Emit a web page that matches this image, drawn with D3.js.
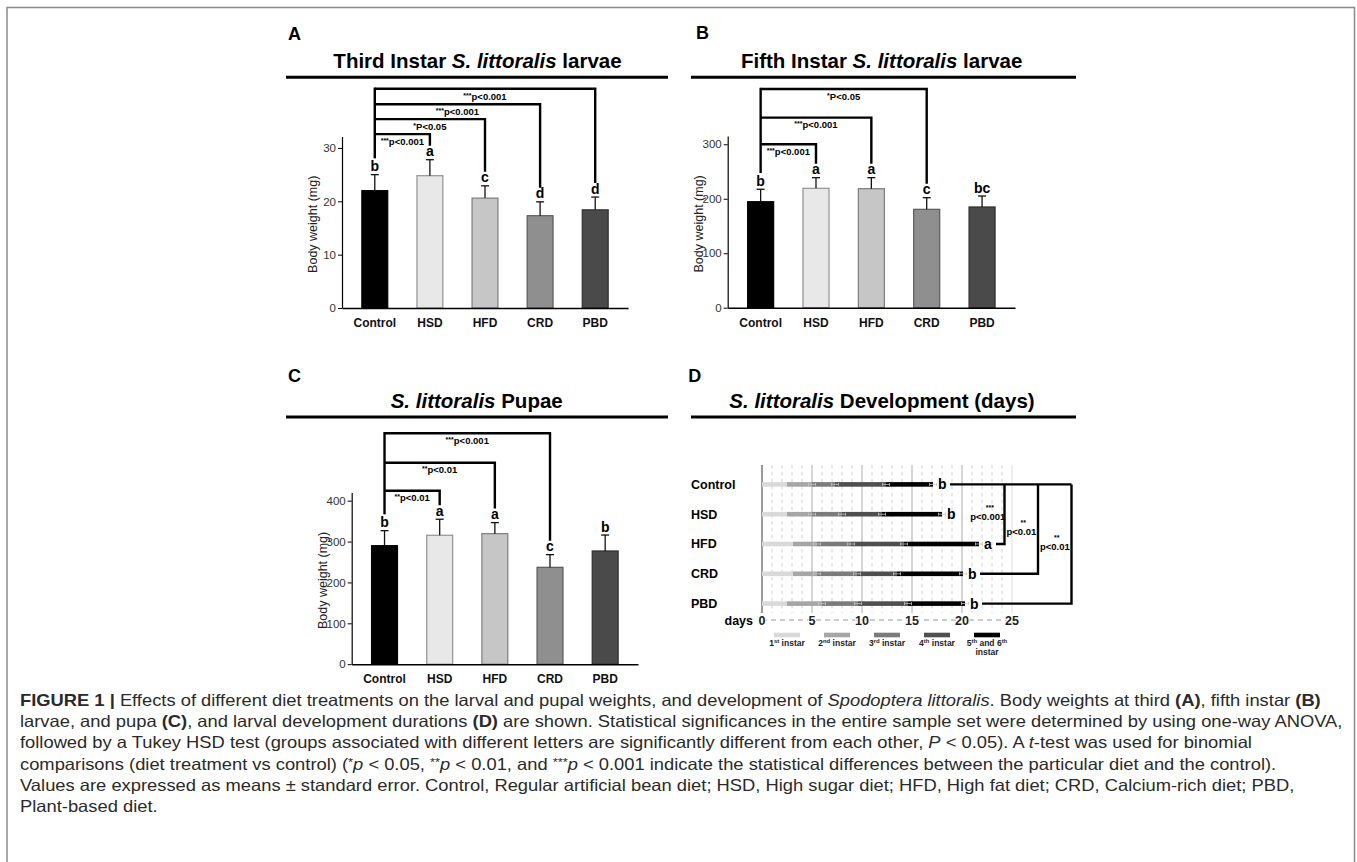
<!DOCTYPE html>
<html>
<head>
<meta charset="utf-8">
<script src="https://cdn.jsdelivr.net/npm/d3@7"></script>
<style>
body { margin: 0; background: #fff; }
svg  { display: block; font-family: "Liberation Sans", Arial, Helvetica, sans-serif; }
.plabel { font-size: 18px; font-weight: bold; }
.ptitle { font-size: 20.5px; font-weight: bold; }
.ylab   { font-size: 12.5px; fill: #222; }
.ax text { font-family: "Liberation Sans", Arial, sans-serif; }
.caption { font-family: "Liberation Sans", Arial, sans-serif; fill: #2a2a2a; }
</style>
</head>
<body>
<script>
// ************************************************************************************
// DATA
// ************************************************************************************
var diets = ["Control", "HSD", "HFD", "CRD", "PBD"]

// A - third instar larvae (mg)
var thirdMean    = [22.0, 24.8, 20.6, 17.3, 18.4]
var thirdErr     = [3.0, 3.0, 2.3, 2.6, 2.4]
var thirdLetters = ["b", "a", "c", "d", "d"]
var thirdTicks   = [0, 10, 20, 30]
var thirdSig     = [
	{vs: "HSD", stars: "***", p: "p<0.001", at: 32.6},
	{vs: "HFD", stars: "*",   p: "P<0.05",  at: 35.4},
	{vs: "CRD", stars: "***", p: "p<0.001", at: 38.2},
	{vs: "PBD", stars: "***", p: "p<0.001", at: 41.1}
]

// B - fifth instar larvae (mg)
var fifthMean    = [194.6, 219.2, 218.5, 180.6, 184.9]
var fifthErr     = [22.8, 19.5, 20.2, 21.4, 20.1]
var fifthLetters = ["b", "a", "a", "c", "bc"]
var fifthTicks   = [0, 100, 200, 300]
var fifthSig     = [
	{vs: "HSD", stars: "***", p: "p<0.001", at: 300},
	{vs: "HFD", stars: "***", p: "p<0.001", at: 349},
	{vs: "CRD", stars: "*",   p: "P<0.05",  at: 401.5}
]

// C - pupae (mg)
var pupaMean    = [290, 315.4, 319.4, 237, 277]
var pupaErr     = [36.7, 39.2, 27, 31, 39]
var pupaLetters = ["b", "a", "a", "c", "b"]
var pupaTicks   = [0, 100, 200, 300, 400]
var pupaSig     = [
	{vs: "HSD", stars: "**",  p: "p<0.01",  at: 424.5},
	{vs: "HFD", stars: "**",  p: "p<0.01",  at: 493},
	{vs: "CRD", stars: "***", p: "p<0.001", at: 565}
]

// D - development, cumulative day at the end of each instar
var devEnds = [
	[2.5, 5.0, 7.3, 12.4, 17.1],   // Control
	[2.5, 5.0, 8.0, 12.0, 18.0],   // HSD
	[3.1, 5.5, 8.9, 14.2, 21.7],   // HFD
	[3.1, 5.5, 9.5, 13.5, 20.1],   // CRD
	[2.5, 6.0, 9.6, 14.6, 20.3]    // PBD
]
var devLetters = ["b", "b", "a", "b", "b"]
var dayTicks   = [0, 5, 10, 15, 20, 25]
var stageNames = [["1", "st", " instar"], ["2", "nd", " instar"], ["3", "rd", " instar"], ["4", "th", " instar"], ["5", "th", " and 6", "th", "instar"]]
var devSig     = [
	{vs: "HFD", stars: "***", p: "p<0.001", at: 24.25},
	{vs: "CRD", stars: "**",  p: "p<0.01",  at: 27.6},
	{vs: "PBD", stars: "**",  p: "p<0.01",  at: 30.95}
]

// styles
var barFills   = ["#000000", "#e8e8e8", "#c6c6c6", "#8f8f8f", "#4a4a4a"]
var stageFills = ["#d9d9d9", "#a6a6a6", "#7b7b7b", "#4f4f4f", "#000000"]

// ************************************************************************************
// GLOBAL VARIABLES
// ************************************************************************************
var W = 1357, H = 862
var svg = d3.select("body").append("svg").attr("width", W).attr("height", H)

// ************************************************************************************
// HELPERS
// ************************************************************************************
function rich(textSel, segs) {
	segs.forEach(function (s) {
		var t = textSel.append("tspan").text(s[0])
		if (s[1] && s[1].indexOf("i") >= 0) t.attr("font-style", "italic")
		if (s[1] && s[1].indexOf("b") >= 0) t.attr("font-weight", "bold")
		if (s[1] && s[1].indexOf("s") >= 0) t.attr("font-size", "0.7em").attr("dy", "-0.35em")
		if (s[1] && s[1].indexOf("r") >= 0) t.attr("dy", "0.245em")
	})
}

function sigLabel(g, cx, cy, sig, stacked) {
	var t = g.append("text").attr("text-anchor", "middle").attr("font-weight", "bold")
	if (!stacked) {
		t.attr("x", cx).attr("y", cy).attr("font-size", 9.5)
		t.append("tspan").attr("font-size", 7).attr("dy", -2).text(sig.stars)
		t.append("tspan").attr("dy", 2).text(sig.p)
	} else {
		g.append("text").attr("x", cx + 2).attr("y", cy - 7).attr("text-anchor", "middle")
			.attr("font-size", 7).attr("font-weight", "bold").text(sig.stars)
		t.attr("x", cx).attr("y", cy + 3).attr("font-size", 9.5).text(sig.p)
	}
}

function panelHead(o) {
	svg.append("text").attr("class", "plabel").attr("x", o.letterX).attr("y", o.letterY).text(o.letter)
	var t = svg.append("text").attr("class", "ptitle").attr("x", o.titleX).attr("y", o.titleY).attr("text-anchor", "middle")
	rich(t, o.title)
	svg.append("line").attr("x1", o.lineX0).attr("x2", o.lineX1).attr("y1", o.titleY + 9).attr("y2", o.titleY + 9)
		.attr("stroke", "#000").attr("stroke-width", 3)
}

// ************************************************************************************
// BAR PANELS (A, B, C)
// ************************************************************************************
function barPanel(o) {
	panelHead(o)
	var g = svg.append("g")

	var x = d3.scaleBand().domain(diets).range([o.x0, o.x1]).paddingInner(0.53).paddingOuter(0.36)
	var y = d3.scaleLinear().domain([0, o.yMax]).range([o.y0, o.yTop])

	var ya = g.append("g").attr("class", "ax").attr("transform", "translate(" + o.x0 + ",0)")
		.call(d3.axisLeft(y).tickValues(o.ticks).tickSize(4).tickSizeOuter(0).tickPadding(2))
	ya.selectAll("text").attr("font-size", 11.5).attr("fill", "#333")
	ya.select(".domain").attr("stroke-width", 1.2)

	g.append("text").attr("class", "ylab").attr("text-anchor", "middle")
		.attr("transform", "translate(" + (o.x0 - 29.5) + "," + ((o.y0 + o.yTop) / 2 + 2) + ") rotate(-90)")
		.attr("dy", "0.35em").text("Body weight (mg)")

	g.selectAll(".bar").data(diets).enter().append("rect")
		.attr("x", function (d) { return x(d) })
		.attr("y", function (d, i) { return y(o.mean[i]) })
		.attr("width", x.bandwidth())
		.attr("height", function (d, i) { return y(0) - y(o.mean[i]) })
		.attr("fill", function (d, i) { return barFills[i] })
		.attr("stroke", function (d, i) { return d3.color(barFills[i]).darker(1.3) })
		.attr("stroke-width", 1.2)

	var cx = function (d) { return x(d) + x.bandwidth() / 2 }
	diets.forEach(function (d, i) {
		var top = y(o.mean[i] + o.err[i])
		g.append("line").attr("x1", cx(d)).attr("x2", cx(d)).attr("y1", y(o.mean[i])).attr("y2", top)
			.attr("stroke", "#111").attr("stroke-width", 1.3)
		g.append("line").attr("x1", cx(d) - 4).attr("x2", cx(d) + 4).attr("y1", top).attr("y2", top)
			.attr("stroke", "#111").attr("stroke-width", 1.3)
		g.append("text").attr("x", cx(d)).attr("y", top - 3.5).attr("text-anchor", "middle")
			.attr("font-size", 14).attr("font-weight", "bold").text(o.letters[i])
	})

	var xa = g.append("g").attr("class", "ax").attr("transform", "translate(0," + o.y0 + ")")
		.call(d3.axisBottom(x).tickSize(0).tickSizeOuter(0).tickPadding(10.5))
	xa.selectAll("text").attr("font-size", 12).attr("font-weight", "bold").attr("fill", "#111")
	xa.select(".domain").attr("stroke-width", 1.4)

	// significance brackets, all against Control
	var c0 = cx("Control")
	var ctrlTop = y(o.mean[0] + o.err[0]) - 17.5
	var hi = d3.max(o.sig, function (s) { return s.at })
	g.append("path").attr("d", "M" + c0 + "," + ctrlTop + "V" + y(hi))
		.attr("fill", "none").attr("stroke", "#000").attr("stroke-width", 2.4).attr("stroke-linecap", "square")
	o.sig.forEach(function (s) {
		var k = diets.indexOf(s.vs)
		var xe = cx(s.vs)
		g.append("path").attr("d", "M" + c0 + "," + y(s.at) + "H" + xe + "V" + (y(o.mean[k] + o.err[k]) - 14))
			.attr("fill", "none").attr("stroke", "#000").attr("stroke-width", 2.4).attr("stroke-linejoin", "miter")
		sigLabel(g, (c0 + xe) / 2, y(s.at) + 10.8, s, false)
	})
}

barPanel({
	letter: "A", letterX: 288, letterY: 39.5,
	title: [["Third Instar ", ""], ["S. littoralis", "i"], [" larvae", ""]], titleX: 477.5, titleY: 68.3,
	lineX0: 286, lineX1: 668,
	x0: 342, x1: 628, y0: 308, yTop: 136.5, yMax: 32.15,
	mean: thirdMean, err: thirdErr, letters: thirdLetters, ticks: thirdTicks, sig: thirdSig
})

barPanel({
	letter: "B", letterX: 696, letterY: 39,
	title: [["Fifth Instar ", ""], ["S. littoralis", "i"], [" larvae", ""]], titleX: 881.7, titleY: 68.3,
	lineX0: 691, lineX1: 1076,
	x0: 727.7, x1: 1015, y0: 307.7, yTop: 136, yMax: 315.2,
	mean: fifthMean, err: fifthErr, letters: fifthLetters, ticks: fifthTicks, sig: fifthSig
})

barPanel({
	letter: "C", letterX: 288, letterY: 382,
	title: [["S. littoralis", "i"], [" Pupae", ""]], titleX: 476.7, titleY: 408,
	lineX0: 286, lineX1: 668,
	x0: 351.7, x1: 638, y0: 664.2, yTop: 492.6, yMax: 419.8,
	mean: pupaMean, err: pupaErr, letters: pupaLetters, ticks: pupaTicks, sig: pupaSig
})

// ************************************************************************************
// DEVELOPMENT PANEL (D)
// ************************************************************************************
panelHead({
	letter: "D", letterX: 688.3, letterY: 382,
	title: [["S. littoralis", "i"], [" Development (days)", ""]], titleX: 882, titleY: 408,
	lineX0: 691, lineX1: 1076
})

var gd   = svg.append("g")
var dx   = d3.scaleLinear().domain([0, 25]).range([762, 1012])
var rows = d3.scalePoint().domain(diets).range([484.4, 603.6])
var gridTop = rows("Control") - 19.5, gridBot = rows("PBD") + 9.5, axisY = 620

// grid
d3.range(0, 26).forEach(function (d) {
	var l = gd.append("line").attr("x1", dx(d)).attr("x2", dx(d)).attr("y1", gridTop).attr("y2", gridBot)
	if (d === 0)          l.attr("stroke", "#9a9a9a").attr("stroke-width", 2)
	else if (d === 25)    l.attr("stroke", "#dedede").attr("stroke-width", 1)
	else if (d % 5 === 0) l.attr("stroke", "#ababab").attr("stroke-width", 1)
	else                  l.attr("stroke", "#cfcfcf").attr("stroke-width", 0.9).attr("stroke-dasharray", "3.5,3.5")
})

// stacked instar bars
diets.forEach(function (d, i) {
	var ends = devEnds[i]
	ends.forEach(function (e, j) {
		var s = j === 0 ? 0 : ends[j - 1]
		gd.append("rect").attr("x", dx(s)).attr("y", rows(d) - 2.3).attr("width", dx(e) - dx(s)).attr("height", 4.6)
			.attr("fill", stageFills[j])
	})
	ends.forEach(function (e, j) {
		if (j === 0) return
		gd.append("path").attr("d", "M" + dx(e - 0.35) + "," + (rows(d) - 1.5) + "v3M" + dx(e - 0.35) + "," + rows(d) +
			"H" + dx(e + 0.35) + "M" + dx(e + 0.35) + "," + (rows(d) - 1.5) + "v3")
			.attr("fill", "none").attr("stroke", "#c4c4c4").attr("stroke-width", 0.8)
	})
	gd.append("text").attr("x", 691).attr("y", rows(d)).attr("dy", "0.35em")
		.attr("font-size", 12.5).attr("font-weight", "bold").text(d)
	gd.append("text").attr("x", dx(ends[4]) + 5).attr("y", rows(d)).attr("dy", "0.35em")
		.attr("font-size", 14).attr("font-weight", "bold").text(devLetters[i])
})

// significance brackets vs Control
var lastAt = devSig[devSig.length - 1].at
gd.append("path").attr("d", "M" + (dx(devEnds[0][4]) + 17) + "," + rows("Control") + "H" + dx(lastAt))
	.attr("stroke", "#000").attr("stroke-width", 2.4).attr("fill", "none")
devSig.forEach(function (s) {
	var k = diets.indexOf(s.vs)
	gd.append("path").attr("d", "M" + dx(s.at) + "," + rows("Control") + "V" + rows(s.vs) + "H" + (dx(devEnds[k][4]) + 17))
		.attr("stroke", "#000").attr("stroke-width", 2.4).attr("fill", "none")
	sigLabel(gd, dx(s.at) - 16.7, (rows("Control") + rows(s.vs)) / 2 + 2.5, s, true)
})

// day axis
gd.append("line").attr("x1", dx(0)).attr("x2", dx(25)).attr("y1", axisY).attr("y2", axisY)
	.attr("stroke", "#9a9a9a").attr("stroke-width", 1.2).attr("stroke-dasharray", "5,4")
gd.selectAll(".dtick").data(dayTicks).enter().append("text")
	.attr("x", function (d) { return dx(d) }).attr("y", axisY).attr("dy", "0.36em")
	.attr("text-anchor", "middle").attr("font-size", 12.5).attr("font-weight", "bold").attr("fill", "#222")
	.attr("stroke", "#fff").attr("stroke-width", 2).attr("paint-order", "stroke")
	.text(function (d) { return d })
gd.append("text").attr("x", 753).attr("y", axisY).attr("dy", "0.36em").attr("text-anchor", "end")
	.attr("font-size", 12.5).attr("font-weight", "bold").text("days")

// legend
stageNames.forEach(function (n, j) {
	var c = dx(2.5 + 5 * j)
	gd.append("rect").attr("x", c - 13).attr("y", axisY + 12.7).attr("width", 26).attr("height", 4.6).attr("fill", stageFills[j])
	var t = gd.append("text").attr("x", c).attr("y", axisY + 25.5).attr("text-anchor", "middle")
		.attr("font-size", 8.5).attr("font-weight", "bold").attr("fill", "#222")
	if (n.length === 3) rich(t, [[n[0], ""], [n[1], "s"], [n[2], "r"]])
	else {
		rich(t, [[n[0], ""], [n[1], "s"], [n[2], "r"], [n[3], "s"]])
		gd.append("text").attr("x", c).attr("y", axisY + 34.5).attr("text-anchor", "middle")
			.attr("font-size", 8.5).attr("font-weight", "bold").attr("fill", "#222").text(n[4])
	}
})

// ************************************************************************************
// FRAME + CAPTION
// ************************************************************************************
svg.append("path").attr("d", "M7," + H + "V7.5H1354.5V" + H)
	.attr("fill", "none").attr("stroke", "#8a8a8a").attr("stroke-width", 1.5)

var captionLines = [
	[["FIGURE 1 | ", "b"], ["Effects of different diet treatments on the larval and pupal weights, and development of ", ""], ["Spodoptera littoralis", "i"], [". Body weights at third ", ""], ["(A)", "b"], [", fifth instar ", ""], ["(B)", "b"]],
	[["larvae, and pupa ", ""], ["(C)", "b"], [", and larval development durations ", ""], ["(D)", "b"], [" are shown. Statistical significances in the entire sample set were determined by using one-way ANOVA,", ""]],
	[["followed by a Tukey HSD test (groups associated with different letters are significantly different from each other, ", ""], ["P", "i"], [" < 0.05). A ", ""], ["t", "i"], ["-test was used for binomial", ""]],
	[["comparisons (diet treatment vs control) (", ""], ["*", "s"], ["p", "ir"], [" < 0.05, ", ""], ["**", "s"], ["p", "ir"], [" < 0.01, and ", ""], ["***", "s"], ["p", "ir"], [" < 0.001 indicate the statistical differences between the particular diet and the control).", ""]],
	[["Values are expressed as means \u00b1 standard error. Control, Regular artificial bean diet; HSD, High sugar diet; HFD, High fat diet; CRD, Calcium-rich diet; PBD,", ""]],
	[["Plant-based diet.", ""]]
]

// caption set in a taller font, squeezed horizontally like a condensed face
var cap = svg.append("g").attr("class", "caption").attr("font-size", 16.5)
var capTexts = captionLines.map(function (segs, i) {
	var t = cap.append("text").attr("x", 0).attr("y", 706 + i * 21.2)
	rich(t, segs)
	return t
})
var w2 = capTexts[1].node().getComputedTextLength()
cap.attr("transform", "translate(20,0) scale(" + (1323 / w2) + ",1)")
</script>
</body>
</html>
